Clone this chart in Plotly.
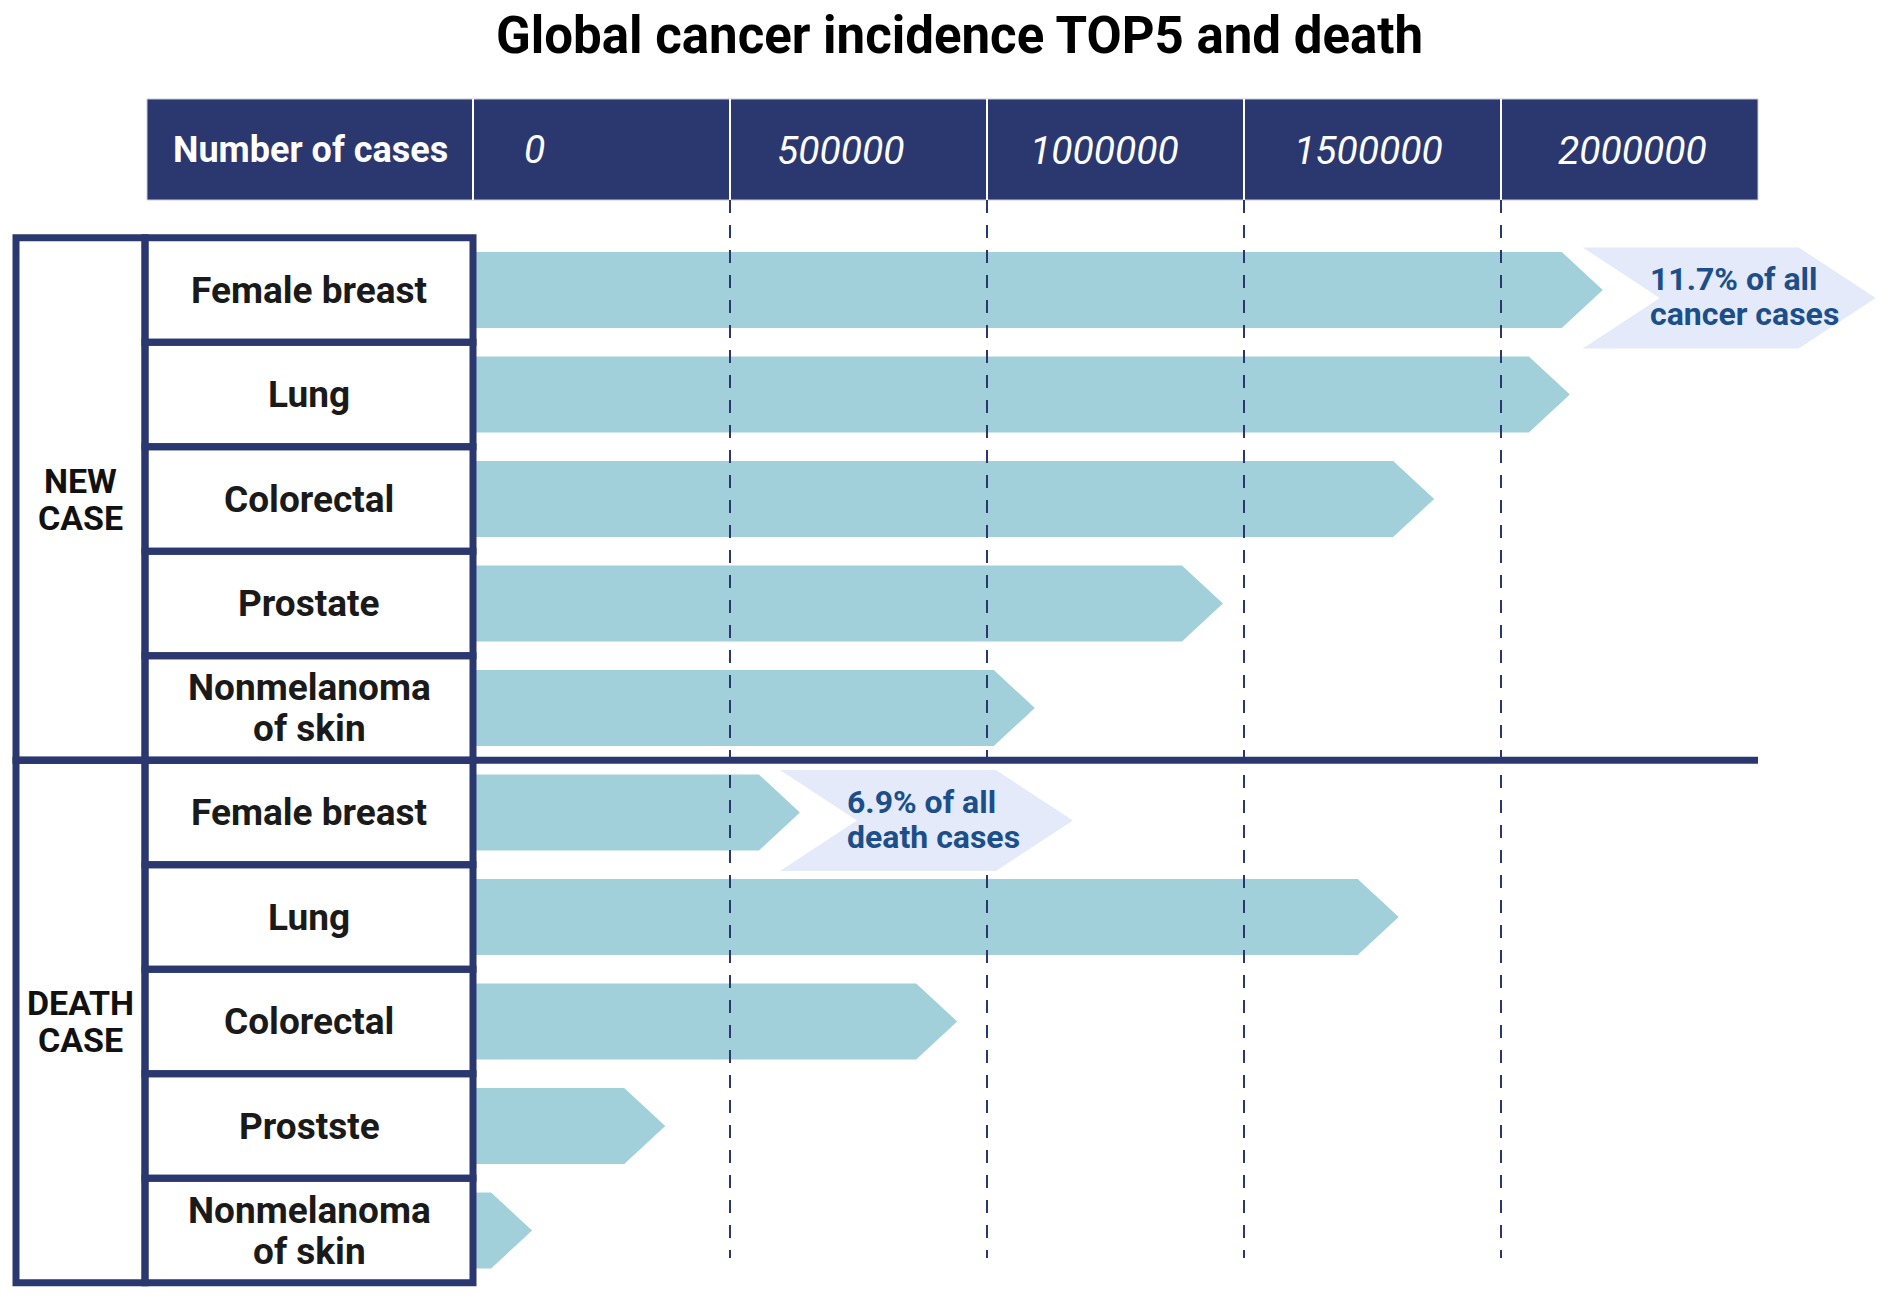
import plotly.graph_objects as go

# data
new_labels = ["Female breast", "Lung", "Colorectal", "Prostate", "Nonmelanoma<br>of skin"]
new_cases = [2198000, 2134000, 1870000, 1459000, 1093000]
death_labels = ["Female breast", "Lung", "Colorectal", "Prostste", "Nonmelanoma<br>of skin"]
death_cases = [636000, 1801000, 942000, 374000, 115000]
group_labels = ["NEW<br>CASE", "DEATH<br>CASE"]
tick_values = [0, 500000, 1000000, 1500000, 2000000]
tick_labels = ["0", "500000", "1000000", "1500000", "2000000"]
callout_rows = [0, 5]
callout_texts = ["11.7% of all<br>cancer cases", "6.9% of all<br>death cases"]
title = "Global cancer incidence TOP5 and death"

W, H = 1892, 1300
NAVY = "#2B386F"
BAR = "#A2D0DA"
CALLOUT = "#E4EAF9"
CALLOUT_TEXT = "#1C4F8A"
FONT = "Roboto"

# page geometry (pixels) -> data units
X0_PX = 473
PX_PER_CASE = 257 / 500000
ROW_PX = 104.5
ROW0_PX = 290
STEP = tick_values[1] - tick_values[0]


def dx(px):
    return (px - X0_PX) / PX_PER_CASE


def dy(px):
    return (px - ROW0_PX) / ROW_PX


def plen(px):
    return px / PX_PER_CASE


def add_text_lines(annotations, x, y, text, spacing_px, font, xanchor="center"):
    # plotly's own <br> line height is too loose, so each line gets its own annotation
    lines = text.split("<br>")
    for k, line in enumerate(lines):
        off = (k - (len(lines) - 1) / 2) * spacing_px / ROW_PX
        annotations.append(dict(x=x, y=y + off, text=line, showarrow=False,
                                xanchor=xanchor, font=font))


labels = new_labels + death_labels
values = new_cases + death_cases
rows = list(range(len(values)))
x_end = tick_values[-1] + STEP

HEAD = plen(41)
HALF = 38 / ROW_PX

fig = go.Figure()

# arrow bars
for r, v in zip(rows, values):
    fig.add_trace(go.Scatter(
        x=[0, v - HEAD, v, v - HEAD, 0, 0],
        y=[r - HALF, r - HALF, r, r + HALF, r + HALF, r - HALF],
        mode="lines", fill="toself", fillcolor=BAR,
        line=dict(width=0), hoverinfo="skip", showlegend=False,
    ))

shapes = []
annotations = []

# header bar
shapes.append(dict(type="rect", x0=dx(147), x1=x_end, y0=dy(99), y1=dy(200),
                   fillcolor=NAVY, line=dict(color="#C9CCDA", width=1), layer="above"))
for t in tick_values:
    shapes.append(dict(type="line", x0=t, x1=t, y0=dy(99), y1=dy(200),
                       line=dict(color="white", width=2), layer="above"))
annotations.append(dict(x=dx(310), y=dy(150), text="Number of cases", showarrow=False,
                        font=dict(family=FONT, size=36, color="white", weight="bold")))
tick_font = dict(family=FONT, size=39, color="white", style="italic")
for i, (t, lab) in enumerate(zip(tick_values, tick_labels)):
    if t == 0:
        annotations.append(dict(x=t + 0.19 * STEP, y=dy(150), text=lab, showarrow=False,
                                xanchor="left", font=tick_font))
    else:
        annotations.append(dict(x=t + (0.43 + 0.027 * (i - 1)) * STEP, y=dy(151), text=lab,
                                showarrow=False, font=tick_font))

# dashed grid lines
for t in tick_values[1:]:
    shapes.append(dict(type="line", x0=t, x1=t, y0=dy(200), y1=dy(1258),
                       line=dict(color=NAVY, width=2, dash="13px,12px"), layer="above"))

# callout chevrons
for r, text in zip(callout_rows, callout_texts):
    tip = values[r]
    left = tip - plen(20)
    cy = r + 8 / ROW_PX
    hh = 50.5 / ROW_PX
    pts = [(left, cy - hh), (left + plen(216), cy - hh), (left + plen(293), cy),
           (left + plen(216), cy + hh), (left, cy + hh), (left + plen(77), cy)]
    path = "M " + " L ".join("{},{}".format(px, py) for px, py in pts) + " Z"
    shapes.append(dict(type="path", path=path, fillcolor=CALLOUT, line=dict(width=0), layer="above"))
    add_text_lines(annotations, left + plen(65), cy - 1.5 / ROW_PX, text, 35,
                   dict(family=FONT, size=32, color=CALLOUT_TEXT, weight="bold"), xanchor="left")

# left table
n_per_group = len(new_labels)
for g, glab in enumerate(group_labels):
    top = g * n_per_group - 0.5
    shapes.append(dict(type="rect", x0=dx(16), x1=dx(145), y0=top, y1=top + n_per_group,
                       line=dict(color=NAVY, width=7), layer="above"))
    add_text_lines(annotations, dx(80), top + n_per_group / 2, glab, 37,
                   dict(family=FONT, size=34, color="#111111", weight="bold"))
for r, lab in zip(rows, labels):
    shapes.append(dict(type="rect", x0=dx(145), x1=0, y0=r - 0.5, y1=r + 0.5,
                       line=dict(color=NAVY, width=7), layer="above"))
    add_text_lines(annotations, dx(309), r, lab, 41,
                   dict(family=FONT, size=37, color="#1A1A1A", weight="bold"))

# separator between new and death cases
shapes.append(dict(type="line", x0=dx(16), x1=x_end, y0=n_per_group - 0.5, y1=n_per_group - 0.5,
                   line=dict(color=NAVY, width=7), layer="above"))

annotations.append(dict(x=dx(959), y=dy(35), text=title, showarrow=False, yanchor="middle",
                        font=dict(family=FONT, size=51, color="black", weight="bold")))

fig.update_layout(
    width=W, height=H,
    margin=dict(l=0, r=0, t=0, b=0),
    plot_bgcolor="white", paper_bgcolor="white",
    xaxis=dict(range=[dx(0), dx(W)], visible=False, fixedrange=True),
    yaxis=dict(range=[dy(H), dy(0)], visible=False, fixedrange=True),
    shapes=shapes, annotations=annotations,
    showlegend=False,
)

# drop the page's default body margin so the figure sits at the window corner
fig.write_html("out.html", config={"displayModeBar": False},
               post_script="document.body.style.margin = '0';")
